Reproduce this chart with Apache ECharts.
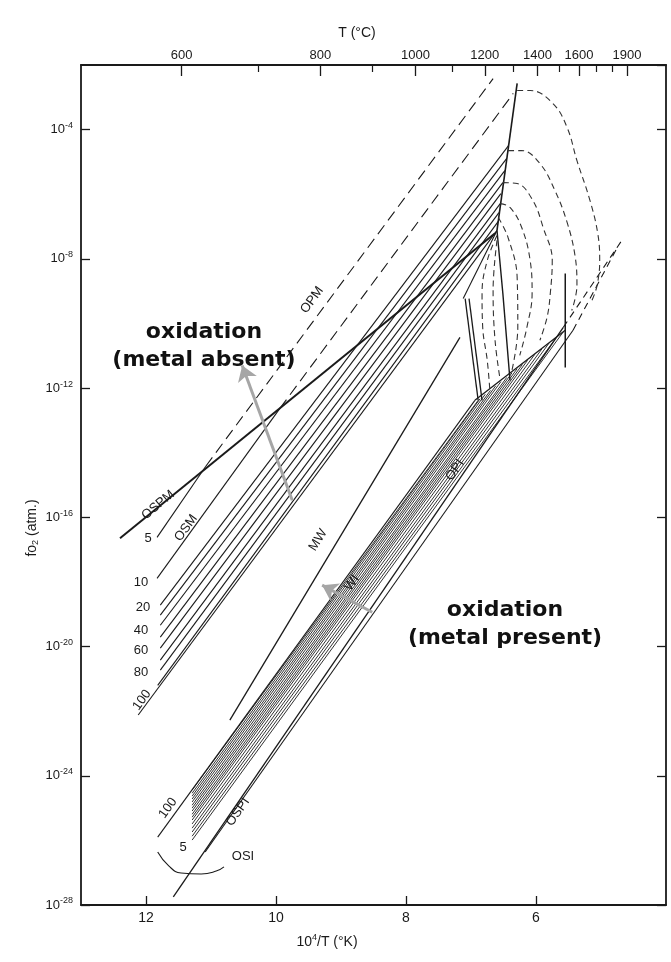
<!DOCTYPE html>
<html><head><meta charset="utf-8">
<script src="https://cdn.jsdelivr.net/npm/echarts@6/dist/echarts.min.js"></script>
<style>html,body{margin:0;padding:0;background:#fff}#c{width:671px;height:962px}</style>
</head><body><div id="c"></div>
<script>
// ---- axis ticks ----
const yTickExp = [-28,-24,-20,-16,-12,-8,-4];
const topTempMajor = [600,800,1000,1200,1400,1600,1900];
const topTempMinor = [700,900,1100,1300,1500,1700,1800];

// ---- data: x = 10^4/T(K), y = log10 fO2 ----
// upper family (olivine oxidation), solid parts
const up5   = [[11.83,-16.62],[11.08,-14.42]];
const up10  = [[11.83,-17.89],[9.94,-12.63]];
const up20  = [[11.78,-18.72],[6.42,-4.49]];
const up30  = [[11.78,-19.03],[6.45,-4.89]];
const up40  = [[11.78,-19.34],[6.48,-5.27]];
const up50  = [[11.78,-19.71],[6.51,-5.64]];
const up60  = [[11.78,-20.05],[6.54,-5.98]];
const up70  = [[11.78,-20.42],[6.55,-6.29]];
const up80  = [[11.78,-20.73],[6.57,-6.57]];
const up90  = [[11.82,-21.20],[6.58,-6.84]];
const up100 = [[12.12,-22.12],[6.60,-7.12]];
// dashed continuations
const opmDashed = [[11.08,-14.42],[6.66,-2.42]];
const up10Dashed = [[9.94,-12.63],[6.35,-2.88]];
// OSPM thick line
const ospm = [[12.40,-16.65],[6.63,-7.21]];
// steep boundary near apex
const steep = [[6.60,-7.12],[6.29,-2.57]];
const apexDown = [[6.60,-7.12],[6.51,-9.07],[6.40,-11.76]];
const apexLeft = [[6.60,-7.12],[7.12,-9.23]];
const dblA = [[7.09,-9.23],[6.89,-12.38]];
const dblB = [[7.03,-9.23],[6.83,-12.38]];
// MW
const mw = [[10.71,-22.28],[7.17,-10.43]];
// lower family (olivine reduction)
const low100 = [[11.82,-25.90],[6.94,-12.38]];
const lowStartX = [11.29,11.29,11.29,11.29,11.29,11.29,11.29,11.29,11.29,11.29,11.29,11.29,11.29,11.29,11.29,11.29];
const lowStartY = [-24.44,-24.54,-24.63,-24.72,-24.81,-24.91,-25.00,-25.09,-25.19,-25.28,-25.37,-25.49,-25.62,-25.74,-25.87,-25.99];
const lowEndX = [6.89,6.86,6.78,6.70,6.62,6.54,6.45,6.37,6.29,6.21,6.13,6.02,5.91,5.80,5.69,5.58];
const lowEndY = [-12.38,-12.33,-12.19,-12.07,-11.93,-11.80,-11.67,-11.53,-11.40,-11.27,-11.14,-10.96,-10.79,-10.61,-10.44,-10.26];
const ospi = [[11.09,-26.36],[5.43,-10.21]];
const opi = [[11.58,-27.75],[5.58,-10.12]];
const opiDash1 = [[5.58,-10.12],[4.68,-7.43]];
const opiDash2 = [[5.43,-10.21],[4.75,-7.65]];
const boundary = [[6.94,-12.38],[5.55,-10.21]];
const vertLine = [[5.55,-8.45],[5.55,-11.36]];
// melting loops (dashed)
const loop1 = [[6.29,-2.79],[6.09,-2.79],[5.74,-3.19],[5.52,-3.94],[5.37,-4.96],[5.17,-6.19],[5.05,-7.21],[5.02,-8.05],[5.06,-8.82],[5.14,-9.29]];
const loop2 = [[6.43,-4.65],[6.22,-4.65],[5.94,-5.05],[5.71,-5.88],[5.52,-6.88],[5.40,-7.90],[5.37,-8.82],[5.45,-9.60]];
const loop3 = [[6.51,-5.64],[6.29,-5.67],[6.05,-6.19],[5.89,-7.03],[5.75,-8.05],[5.78,-9.07],[5.83,-9.81],[5.94,-10.52]];
const loop4 = [[6.55,-6.29],[6.40,-6.41],[6.22,-7.03],[6.09,-8.05],[6.06,-9.07],[6.14,-10.12],[6.25,-10.99]];
const loop5 = [[6.58,-6.72],[6.43,-7.34],[6.29,-8.58],[6.28,-10.12],[6.37,-11.45]];
const innerDash1 = [[6.60,-7.28],[6.75,-8.05],[6.83,-9.07],[6.82,-10.12],[6.75,-11.14],[6.71,-12.07]];
const innerDash2 = [[6.60,-7.43],[6.66,-8.98],[6.63,-10.52],[6.55,-11.76]];
// OSI arc
const osi = [[11.82,-26.36],[11.65,-26.79],[11.46,-27.01],[11.15,-27.04],[10.92,-26.95],[10.80,-26.82]];
// grey arrows (tail, head)
const arrowAbsent = [[9.75,-15.47],[10.52,-11.30]];
const arrowPresent = [[8.52,-18.94],[9.29,-18.10]];

const INK = '#1a1a1a';
function ln(data, opt) {
  opt = opt || {};
  return {type:'line', data:data, showSymbol:false, symbol:'none', silent:true, animation:false,
    smooth:opt.smooth||false,
    lineStyle:{color:opt.color||INK, width:opt.w||1.1, type:opt.dash||'solid'}, z:opt.z||2};
}
const series = [];
[up5,up10,up20,up30,up40,up50,up60,up70,up80,up90,up100].forEach(d=>series.push(ln(d)));
series.push(ln(opmDashed,{dash:[11,6]}));
series.push(ln(up10Dashed,{dash:[11,6]}));
series.push(ln(ospm,{w:2}));
series.push(ln(steep,{w:1.6}));
series.push(ln(apexDown,{w:1.4}));
series.push(ln(apexLeft));
series.push(ln(dblA,{w:1.3}));
series.push(ln(dblB,{w:1.3}));
series.push(ln(mw,{w:1.3}));
series.push(ln(low100));
for (let i=0;i<lowStartY.length;i++) series.push(ln([[lowStartX[i],lowStartY[i]],[lowEndX[i],lowEndY[i]]],{w:0.9}));
series.push(ln(ospi));
series.push(ln(opi,{w:1.3}));
series.push(ln(opiDash1,{dash:[7,5]}));
series.push(ln(opiDash2,{dash:[7,5]}));
series.push(ln(boundary,{w:1.3}));
series.push(ln(vertLine,{w:1.5}));
[loop1,loop2,loop3,loop4,loop5,innerDash1,innerDash2].forEach(d=>series.push(ln(d,{dash:[6,4],color:'#333',smooth:0.4})));
series.push(ln(osi,{smooth:0.5}));
series.push({type:'lines',coordinateSystem:'cartesian2d',silent:true,animation:false,z:5,
  symbol:['none','arrow'],symbolSize:15,
  lineStyle:{color:'#a6a6a6',width:3,opacity:1},
  data:[{coords:arrowAbsent},{coords:arrowPresent}]});

const toX = t => 10000/(t+273.15);
const FONT = '"Liberation Sans", Arial, sans-serif';

const option = {
  animation:false,
  backgroundColor:'#fff',
  grid:{left:81,right:5,top:65,bottom:57},
  xAxis:[
    {type:'value',min:4,max:13,interval:2,inverse:true,position:'bottom',
     axisLine:{onZero:false,lineStyle:{color:INK,width:1.8}},
     axisTick:{inside:true,length:9,lineStyle:{color:INK,width:1.3}},
     axisLabel:{color:INK,fontFamily:FONT,fontSize:14,margin:6,showMinLabel:false,showMaxLabel:false,
       formatter:v=> ((v===4||v===13)?'':String(v))},
     splitLine:{show:false}},
    {type:'value',min:4,max:13,inverse:true,position:'top',
     axisLine:{onZero:false,lineStyle:{color:INK,width:1.8}},
     axisTick:{inside:true,length:11,customValues:topTempMajor.map(toX),lineStyle:{color:INK,width:1.3}},
     axisLabel:{color:INK,fontFamily:FONT,fontSize:13,margin:3,customValues:topTempMajor.map(toX),
       formatter:v=>{const t=Math.round(10000/v-273.15);return String(Math.round(t/100)*100);}},
     splitLine:{show:false}},
    {type:'value',min:4,max:13,inverse:true,position:'top',
     axisLine:{show:false},
     axisTick:{inside:true,length:7,customValues:topTempMinor.map(toX),lineStyle:{color:INK,width:1.2}},
     axisLabel:{show:false},splitLine:{show:false}}
  ],
  yAxis:[
    {type:'value',min:-28,max:-2,interval:4,position:'left',
     axisLine:{onZero:false,lineStyle:{color:INK,width:1.8}},
     axisTick:{inside:true,length:9,lineStyle:{color:INK,width:1.3}},
     axisLabel:{showMaxLabel:false,margin:8,color:INK,fontFamily:FONT,
       formatter:v=> (yTickExp.indexOf(v)>=0 ? '{b|10}{s|'+v+'}' : ''),
       rich:{b:{fontSize:13,fontFamily:FONT,color:INK},s:{fontSize:9,fontFamily:FONT,color:INK,padding:[0,0,8,0]}}},
     splitLine:{show:false}},
    {type:'value',min:-28,max:-2,interval:4,position:'right',
     axisLine:{onZero:false,lineStyle:{color:INK,width:1.8}},
     axisTick:{inside:true,length:9,lineStyle:{color:INK,width:1.3}},
     axisLabel:{show:false},splitLine:{show:false}}
  ],
  series:series,
  graphic:[]
};

function txt(x,y,s,deg,size){
  return {type:'text',x:x,y:y,rotation:(deg||0)*Math.PI/180,z:20,silent:true,
    style:{text:s,fill:INK,font:(size||13)+'px '+FONT,align:'center',verticalAlign:'middle'}};
}
const g = option.graphic;
g.push(txt(357,33,'T (°C)',0,14));
g.push({type:'text',x:327,y:942,z:20,silent:true,style:{text:'10{s|4}/T (°K)',rich:{s:{fontSize:9,fontFamily:FONT,fill:INK,padding:[0,0,8,0]}},fill:INK,font:'14px '+FONT,align:'center',verticalAlign:'middle'}});
g.push({type:'text',x:32,y:528,rotation:Math.PI/2,z:20,silent:true,style:{text:'fo{s|2} (atm.)',rich:{s:{fontSize:9,fontFamily:FONT,fill:INK,padding:[8,0,0,0]}},fill:INK,font:'14px '+FONT,align:'center',verticalAlign:'middle'}});
g.push(txt(312,300,'OPM',54,13));
g.push(txt(158,505,'OSPM',40,13));
g.push(txt(186,528,'OSM',54,13));
g.push(txt(148,538,'5',0,13));
g.push(txt(141,582,'10',0,13));
g.push(txt(143,607,'20',0,13));
g.push(txt(141,630,'40',0,13));
g.push(txt(141,650,'60',0,13));
g.push(txt(141,672,'80',0,13));
g.push(txt(142,700,'100',54,13));
g.push(txt(318,540,'MW',58,13));
g.push(txt(352,583,'WI',54,13));
g.push(txt(455,470,'OPI',55,13));
g.push(txt(168,808,'100',54,13));
g.push(txt(183,847,'5',0,13));
g.push(txt(238,812,'OSPI',55,13));
g.push(txt(243,856,'OSI',0,13));
g.push({type:'text',x:204,y:346,z:30,silent:true,style:{text:'oxidation\n(metal absent)',fill:'#111',font:'bold 22px "DejaVu Sans", sans-serif',align:'center',verticalAlign:'middle',lineHeight:28}});
g.push({type:'text',x:505,y:624,z:30,silent:true,style:{text:'oxidation\n(metal present)',fill:'#111',font:'bold 22px "DejaVu Sans", sans-serif',align:'center',verticalAlign:'middle',lineHeight:28}});

const chart = echarts.init(document.getElementById('c'),null,{renderer:'canvas'});
chart.setOption(option);
</script></body></html>
